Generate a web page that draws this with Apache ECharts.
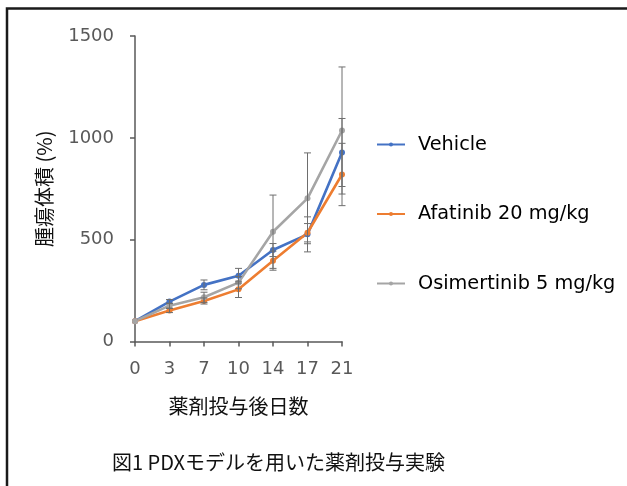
<!DOCTYPE html>
<html><head><meta charset="utf-8">
<script src="https://cdn.jsdelivr.net/npm/echarts@6/dist/echarts.min.js"></script>
<style>html,body{margin:0;padding:0;background:#fff}#c{width:627px;height:486px}</style>
</head><body><div id="c"></div>
<script>
const days = ['0', '3', '7', '10', '14', '17', '21'];
const yTicks = [0, 500, 1000, 1500];
const vehicle = [100, 196, 278, 323, 449, 526, 928];
const vehicleErr = [0, 10, 24, 36, 32, 86, 167];
const afatinib = [100, 152, 199, 256, 397, 534, 820];
const afatinibErr = [0, 10, 15, 40, 47, 45, 153];
const osimertinib = [100, 176, 217, 289, 539, 703, 1036];
const osimertinibErr = [0, 12, 25, 30, 180, 223, 312];
const seriesNames = ['Vehicle', 'Afatinib 20 mg/kg', 'Osimertinib 5 mg/kg'];
const colors = ['#4472C4', '#ED7D31', '#A5A5A5'];

const latin = '"DejaVu Sans", "Noto Sans CJK JP", sans-serif';
const cjk = '"Noto Sans CJK JP", "DejaVu Sans", sans-serif';

function lineSeries(name, vals, color) {
  return {
    type: 'line', name: name, data: vals, z: 4,
    symbol: 'circle', symbolSize: 6,
    itemStyle: { color: color },
    lineStyle: { color: color, width: 2.6 },
    emphasis: { disabled: true }
  };
}
function errSeries(name, vals, errs) {
  return {
    type: 'custom', name: name + ' err', silent: true, z: 5,
    data: vals.map((v, i) => [i, v - errs[i], v + errs[i]]),
    encode: { x: 0, y: [1, 2] },
    renderItem: function (params, api) {
      const x = api.value(0);
      const lo = api.coord([x, api.value(1)]);
      const hi = api.coord([x, api.value(2)]);
      if (Math.abs(lo[1] - hi[1]) < 0.5) return { type: 'group', children: [] };
      const w = 3.5;
      const st = { stroke: '#6e6e6e', lineWidth: 1 };
      return {
        type: 'group', children: [
          { type: 'line', shape: { x1: hi[0], y1: hi[1], x2: lo[0], y2: lo[1] }, style: st },
          { type: 'line', shape: { x1: hi[0] - w, y1: hi[1], x2: hi[0] + w, y2: hi[1] }, style: st },
          { type: 'line', shape: { x1: lo[0] - w, y1: lo[1], x2: lo[0] + w, y2: lo[1] }, style: st }
        ]
      };
    }
  };
}

const chart = echarts.init(document.getElementById('c'));
chart.setOption({
  animation: false,
  backgroundColor: '#fff',
  grid: { left: 135, top: 36, width: 207, height: 305.5 },
  legend: {
    data: seriesNames,
    orient: 'vertical',
    left: 376, top: 134, padding: 0,
    itemWidth: 28, itemHeight: 5, itemGap: 48.5,
    textStyle: { fontFamily: latin, fontSize: 19.3, color: '#000', lineHeight: 21, padding: [0, 0, 0, 8] }
  },
  xAxis: {
    type: 'category', data: days, boundaryGap: false,
    name: '薬剤投与後日数', nameLocation: 'middle', nameGap: 55,
    nameTextStyle: { fontFamily: cjk, fontSize: 20, color: '#111' },
    axisLine: { lineStyle: { color: '#595959', width: 1.5 } },
    axisTick: { show: true, length: 5, lineStyle: { color: '#595959', width: 1.5 } },
    axisLabel: { fontFamily: latin, fontSize: 18, color: '#595959', margin: 19 },
    splitLine: { show: false }
  },
  yAxis: {
    type: 'value', min: 0, max: 1500, interval: 500,
    name: '腫瘍体積 (%)', nameLocation: 'middle', nameGap: 81,
    nameTextStyle: { fontFamily: cjk, fontSize: 20, color: '#111' },
    axisLine: { show: true, lineStyle: { color: '#595959', width: 1.5 } },
    axisTick: { show: true, length: 5, lineStyle: { color: '#595959', width: 1.5 } },
    axisLabel: {
      fontFamily: latin, fontSize: 18, color: '#595959', margin: 21,
      formatter: v => yTicks.includes(v) ? String(v) : ''
    },
    splitLine: { show: false }
  },
  graphic: [
    { type: 'rect', shape: { x: 7, y: 8.5, width: 700, height: 600 }, style: { fill: 'none', stroke: '#1a1a1a', lineWidth: 2.5 }, silent: true },
    { type: 'text', left: 112, top: 452, style: { text: '図1 PDXモデルを用いた薬剤投与実験', fontFamily: cjk, fontSize: 20, fill: '#111' } }
  ],
  series: [
    lineSeries(seriesNames[0], vehicle, colors[0]),
    lineSeries(seriesNames[1], afatinib, colors[1]),
    lineSeries(seriesNames[2], osimertinib, colors[2]),
    errSeries(seriesNames[0], vehicle, vehicleErr),
    errSeries(seriesNames[1], afatinib, afatinibErr),
    errSeries(seriesNames[2], osimertinib, osimertinibErr)
  ]
});
</script>
</body></html>
